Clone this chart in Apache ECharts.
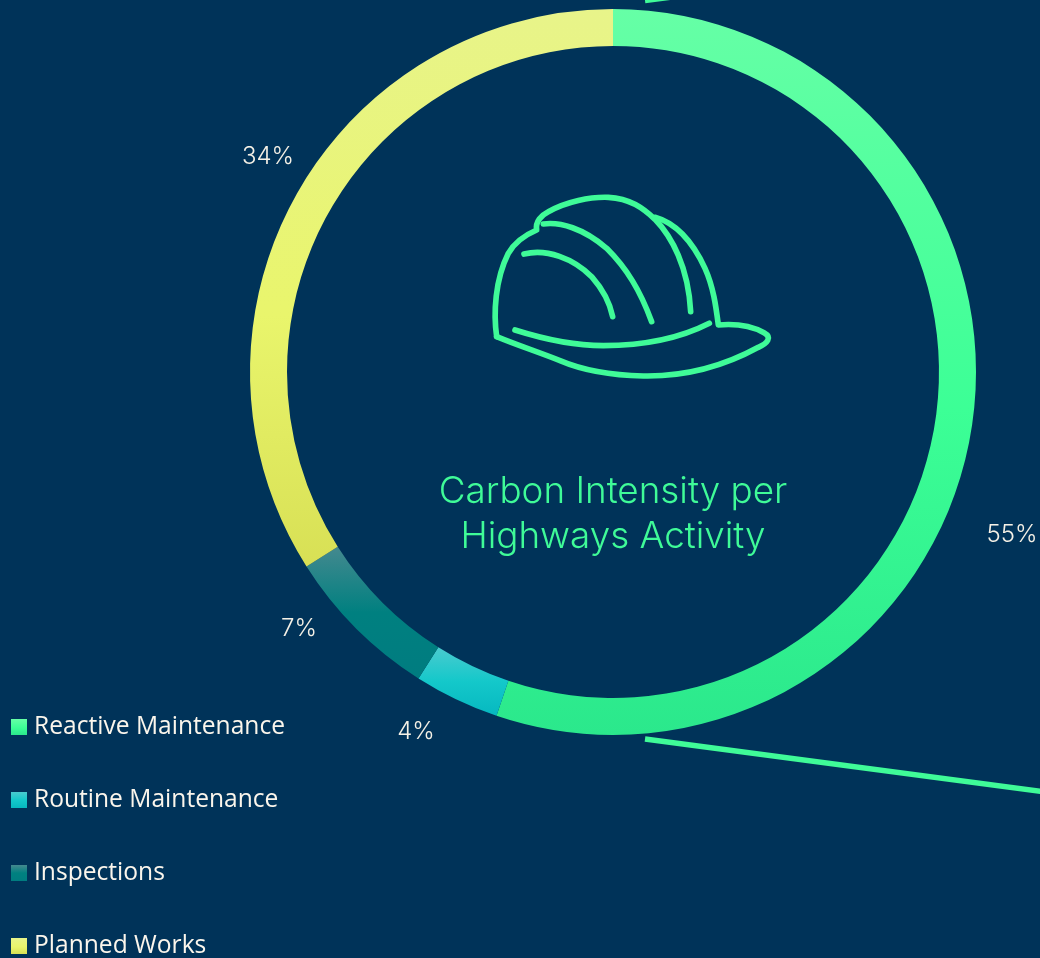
<!DOCTYPE html>
<html>
<head>
<meta charset="utf-8">
<style>html,body{margin:0;padding:0;background:#003359;overflow:hidden}#c{width:1040px;height:958px}</style>
<script src="https://cdn.jsdelivr.net/npm/echarts@6/dist/echarts.min.js"></script>
</head>
<body>
<div id="c"></div>
<script>
const categories = ['Reactive Maintenance', 'Routine Maintenance', 'Inspections', 'Planned Works'];
const values = [55.2, 3.8, 7, 34];
const titleLines = ['Carbon Intensity per', 'Highways Activity'];
const gradientStops = [
  [[0, '#66FFA6'], [0.55, '#3CFF96'], [1, '#2BE88C']],
  [[0, '#4ACBCF'], [0.5, '#14C8CA'], [1, '#06B8C0']],
  [[0, '#44898F'], [0.5, '#008080'], [1, '#007C80']],
  [[0, '#E8F48A'], [0.55, '#E9F56C'], [1, '#D8E055']]
];
const labelPositions = [[1012, 535], [416, 732], [299, 629], [268, 157]];

const ACCENT = '#3FFB98';
const fill = stops => new echarts.graphic.LinearGradient(0, 0, 0, 1,
  stops.map(s => ({ offset: s[0], color: s[1] })));

const helmetPaths = [
  'M50 470 C40 400 45 300 85 220 C105 185 135 165 170 150 C165 125 185 105 205 95 C260 65 330 50 385 52 C450 55 490 85 525 118 C575 170 625 260 632 395',
  'M525 112 C590 130 640 190 675 265 C700 320 708 380 715 435 C770 430 815 438 852 458 C878 472 862 490 835 502 C720 565 600 590 490 588 C400 586 310 572 240 542 C180 518 110 495 50 470',
  'M105 450 C200 480 290 497 370 497 C480 497 590 480 688 430',
  'M190 132 C240 125 310 145 380 205 C440 265 480 330 515 425',
  'M132 222 C200 205 280 235 335 290 C370 330 390 370 398 410'
];
helmetPaths.forEach((d, i) => echarts.graphic.registerShape('helmet' + i, echarts.graphic.extendPath(d)));

const chart = echarts.init(document.getElementById('c'));
chart.setOption({
  animation: false,
  backgroundColor: '#003359',
  title: {
    text: titleLines.join('\n'),
    left: 613, top: 469,
    padding: 0,
    textAlign: 'center',
    textStyle: { color: ACCENT, fontFamily: 'Inter', fontWeight: 300, fontSize: 36.8, lineHeight: 45 }
  },
  legend: {
    orient: 'vertical',
    left: 11, top: 711,
    height: 300,
    itemWidth: 16, itemHeight: 16, itemGap: 41,
    icon: 'rect',
    padding: 0,
    selectedMode: false,
    data: categories,
    textStyle: { color: '#FBF6EC', fontFamily: 'Open Sans', fontSize: 24.6, padding: [2, 0, 0, 2], lineHeight: 30 }
  },
  series: [{
    type: 'pie',
    center: [613, 372],
    radius: [326, 363],
    startAngle: 90,
    clockwise: true,
    avoidLabelOverlap: false,
    silent: true,
    data: categories.map((name, i) => ({
      name, value: values[i], itemStyle: { color: fill(gradientStops[i]) }
    })),
    label: {
      show: true,
      position: 'outside',
      formatter: p => Math.round(p.value) + '%',
      color: '#F5F1E6',
      fontFamily: 'Inter',
      fontWeight: 300,
      fontSize: 24
    },
    labelLine: { show: false },
    labelLayout: p => ({
      x: labelPositions[p.dataIndex][0],
      y: labelPositions[p.dataIndex][1],
      align: 'center',
      verticalAlign: 'middle'
    })
  }],
  graphic: [
    ...helmetPaths.map((d, i) => ({
      type: 'helmet' + i, x: 480, y: 180, scaleX: 1 / 3, scaleY: 1 / 3,
      style: { fill: 'none', stroke: ACCENT, lineWidth: 17, lineCap: 'round', lineJoin: 'round' }
    })),
    { type: 'line', shape: { x1: 645, y1: 739, x2: 1045, y2: 792 }, style: { stroke: ACCENT, lineWidth: 5.5 } },
    { type: 'line', shape: { x1: 645, y1: 0.6, x2: 690, y2: -5.4 }, style: { stroke: ACCENT, lineWidth: 5.5 } }
  ]
});
</script>
</body>
</html>
